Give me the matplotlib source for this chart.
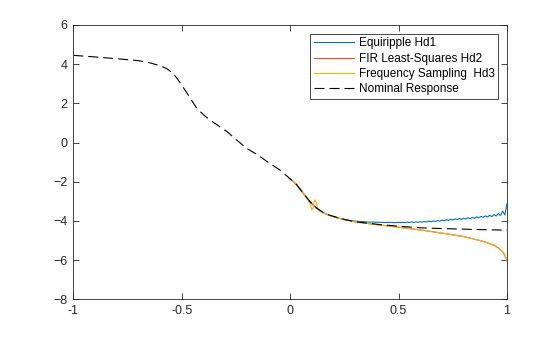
import matplotlib
matplotlib.use("Agg")
import matplotlib.pyplot as plt

plt.rcParams['font.family'] = ['Liberation Sans', 'DejaVu Sans']

# Nominal response
nom_x = [-1.0, -0.9, -0.8, -0.7, -0.65, -0.6, -0.57, -0.54, -0.52, -0.5, -0.48, -0.46,
         -0.43, -0.4, -0.37, -0.33, -0.29, -0.25, -0.2, -0.15, -0.1, -0.05, 0.0, 0.03,
         0.06, 0.09, 0.12, 0.15, 0.18, 0.22, 0.26, 0.3, 0.4, 0.5, 0.6, 0.7, 0.8, 0.9, 1.0]
nom_y = [4.45, 4.37, 4.28, 4.18, 4.08, 3.92, 3.78, 3.53, 3.25, 2.93, 2.6, 2.25,
         1.74, 1.42, 1.15, 0.85, 0.55, 0.16, -0.30, -0.63, -1.02, -1.38, -1.85, -2.15,
         -2.58, -3.0, -3.32, -3.55, -3.7, -3.83, -3.95, -4.04, -4.17, -4.27, -4.35, -4.39,
         -4.42, -4.45, -4.47]

# Equiripple Hd1
hd1_x = [0.0, 0.03, 0.06, 0.09, 0.12, 0.15, 0.18, 0.22, 0.26, 0.30, 0.32, 0.34, 0.36,
         0.38, 0.40, 0.42, 0.44, 0.46, 0.48,
         0.50, 0.51, 0.52, 0.53, 0.54, 0.55, 0.56, 0.57, 0.58, 0.59, 0.60, 0.61, 0.62,
         0.63, 0.64, 0.65, 0.66, 0.67, 0.68, 0.69, 0.70, 0.71, 0.72, 0.73, 0.74, 0.75,
         0.76, 0.77, 0.78, 0.79, 0.80, 0.81, 0.82, 0.83, 0.84, 0.85, 0.86, 0.87, 0.88,
         0.89, 0.90, 0.91, 0.92, 0.93, 0.94, 0.95, 0.96, 0.97, 0.98, 0.99, 1.00]
hd1_y = [-1.85, -2.15, -2.58, -3.02, -3.34, -3.57, -3.72, -3.85, -3.95, -4.01, -4.03,
         -4.04, -4.06, -4.06, -4.07, -4.07, -4.08, -4.07, -4.09,
         -4.07, -4.09, -4.07, -4.09, -4.06, -4.08, -4.05, -4.08, -4.05, -4.07, -4.04,
         -4.06, -4.03, -4.05, -4.01, -4.04, -4.00, -4.03, -3.98, -4.01, -3.96, -3.99,
         -3.94, -3.97, -3.92, -3.95, -3.90, -3.93, -3.88, -3.92, -3.86, -3.90, -3.84,
         -3.88, -3.82, -3.86, -3.79, -3.84, -3.77, -3.82, -3.74, -3.80, -3.71, -3.78,
         -3.68, -3.75, -3.62, -3.72, -3.50, -3.70, -3.12]

# FIR Least-Squares Hd2
hd2_x = [0.0, 0.03, 0.06, 0.09, 0.12, 0.15, 0.18, 0.22, 0.26, 0.3, 0.4, 0.5, 0.6,
         0.7, 0.8, 0.85, 0.9, 0.94, 0.96, 0.98, 0.99, 1.0]
hd2_y = [-1.85, -2.15, -2.58, -3.0, -3.33, -3.57, -3.71, -3.85, -3.96, -4.05, -4.19,
         -4.32, -4.46, -4.62, -4.8, -4.93, -5.08, -5.25, -5.38, -5.58, -5.75, -6.05]

# Frequency Sampling Hd3
hd3_x = [0.0, 0.03, 0.06, 0.085, 0.095, 0.1, 0.105, 0.11, 0.115, 0.12, 0.127, 0.135,
         0.15, 0.18, 0.22, 0.26, 0.3, 0.4, 0.5, 0.6, 0.7, 0.8, 0.85, 0.9, 0.94, 0.96,
         0.98, 0.99, 1.0]
hd3_y = [-1.85, -2.15, -2.58, -2.95, -3.25, -3.45, -3.35, -3.05, -2.92, -3.05, -3.35,
         -3.5, -3.57, -3.71, -3.85, -3.96, -4.05, -4.19, -4.32, -4.46, -4.62, -4.8,
         -4.93, -5.08, -5.25, -5.38, -5.58, -5.75, -6.05]

labels = ['Equiripple Hd1', 'FIR Least-Squares Hd2', 'Frequency Sampling  Hd3',
          'Nominal Response']
xticks = [-1, -0.5, 0, 0.5, 1]
xticklabels = ['-1', '-0.5', '0', '0.5', '1']
yticks = [-8, -6, -4, -2, 0, 2, 4, 6]

fig = plt.figure(figsize=(5.6, 3.37), dpi=100)
ax = fig.add_axes([73.3 / 560, 37.7 / 337, (507 - 73.3) / 560, (299.3 - 25) / 337])

ax.plot(hd1_x, hd1_y, color='#0072BD', lw=0.8, label=labels[0])
ax.plot(hd2_x, hd2_y, color='#D95319', lw=0.8, label=labels[1])
ax.plot(hd3_x, hd3_y, color='#EDB120', lw=0.8, label=labels[2])
ax.plot(nom_x, nom_y, color='black', lw=0.8, dashes=(9, 4.5), label=labels[3])

ax.set_xlim(-1, 1)
ax.set_ylim(-8, 6)
ax.set_xticks(xticks)
ax.set_xticklabels(xticklabels)
ax.set_yticks(yticks)
ax.tick_params(direction='in', length=4, width=0.6, top=True, right=True,
               labelsize=9, colors='#262626', pad=4)
for s in ax.spines.values():
    s.set_color('#262626')
    s.set_linewidth(0.6)

leg = ax.legend(loc='upper right', fontsize=8.5, frameon=True, fancybox=False,
                edgecolor='#262626', framealpha=1, borderaxespad=0.75,
                handlelength=3.4, handletextpad=0.4, labelspacing=0.28,
                borderpad=0.3)
leg.get_frame().set_linewidth(0.6)

fig.savefig('out.png', dpi=100)
